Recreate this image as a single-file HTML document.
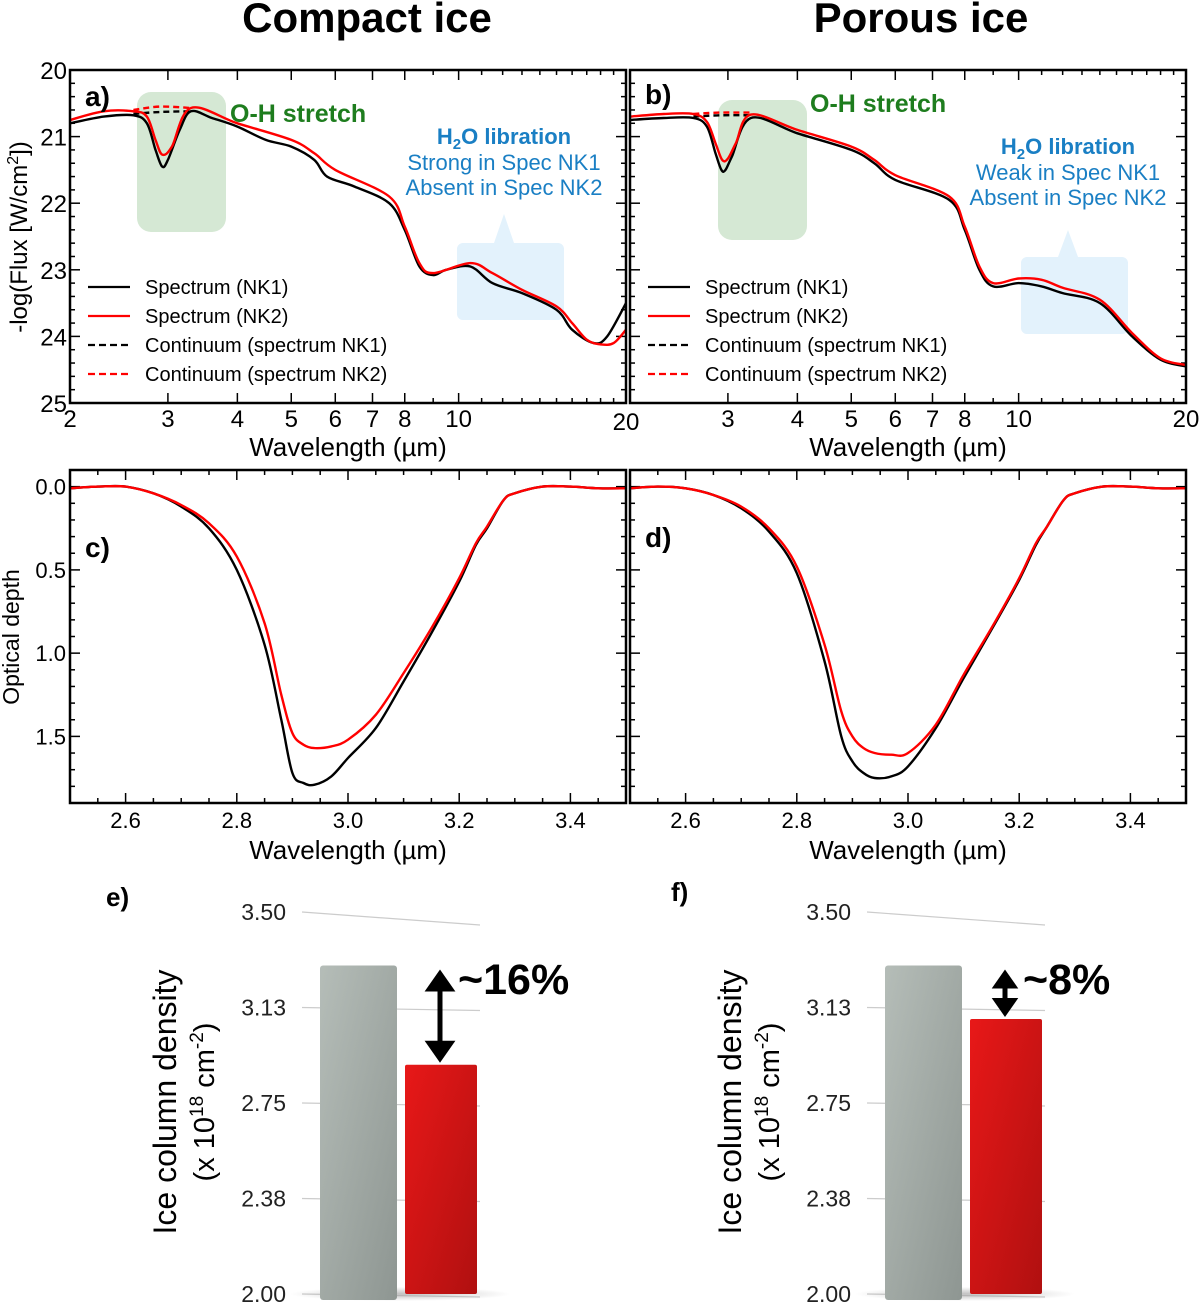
<!DOCTYPE html>
<html><head><meta charset="utf-8">
<style>
html,body{margin:0;padding:0;background:#fff;}
svg{display:block;font-family:"Liberation Sans",sans-serif;}
</style></head>
<body>
<svg id="fig" width="1200" height="1306" viewBox="0 0 1200 1306" xmlns="http://www.w3.org/2000/svg">
<text x="367" y="32" font-size="42" font-weight="bold" text-anchor="middle">Compact ice</text>
<text x="921" y="32" font-size="42" font-weight="bold" text-anchor="middle">Porous ice</text>
<g id="root"></g>
</svg>
<script>
// ---- Data: panels a/b (wavelength µm, -log flux) ----
const aNK1x=[2.0,2.3,2.6,2.75,2.85,2.93,3.0,3.15,3.3,3.6,4.0,4.5,5.0,5.5,5.8,6.5,7.5,8.0,8.5,9.0,9.5,10.5,11.5,13,15,16,17.5,18.5,20];
const aNK1y=[20.8,20.7,20.68,20.8,21.2,21.45,21.35,20.9,20.62,20.72,20.85,21.05,21.15,21.35,21.6,21.75,22.0,22.4,22.95,23.08,23.0,22.95,23.2,23.35,23.6,23.9,24.1,24.0,23.5];
const aNK2x=[2.0,2.3,2.6,2.75,2.85,2.93,3.05,3.3,4.0,5.0,5.5,6.0,7.5,8.0,8.5,9.0,10.5,11.5,13,15,16,17,18,19,20];
const aNK2y=[20.75,20.62,20.62,20.7,21.05,21.27,21.15,20.57,20.8,21.05,21.25,21.5,21.9,22.35,22.9,23.05,22.9,23.05,23.3,23.55,23.8,24.05,24.12,24.1,23.9];
const aC1x=[2.6,2.9,3.3]; const aC1y=[20.66,20.63,20.62];
const aC2x=[2.6,2.9,3.3]; const aC2y=[20.6,20.55,20.57];
const bNK1x=[2.0,2.3,2.6,2.75,2.85,2.92,2.97,3.05,3.3,4.0,5.0,5.5,6.0,7.5,8.0,8.5,9.0,10.0,11.0,12.0,14.0,16.0,18.0,20.0];
const bNK1y=[20.75,20.72,20.72,20.85,21.25,21.5,21.5,21.3,20.72,20.95,21.2,21.4,21.65,21.95,22.4,23.0,23.25,23.2,23.25,23.35,23.5,24.0,24.35,24.45];
const bNK2x=[2.0,2.3,2.6,2.75,2.85,2.93,3.0,3.1,3.3,4.0,5.0,5.5,6.0,7.5,8.0,8.5,9.0,10.0,11.0,12.0,14.0,16.0,18.0,20.0];
const bNK2y=[20.7,20.66,20.66,20.78,21.1,21.35,21.33,21.1,20.67,20.9,21.15,21.35,21.58,21.9,22.35,22.95,23.2,23.13,23.15,23.27,23.45,23.95,24.33,24.43];
const bC1x=[2.6,2.9,3.3]; const bC1y=[20.7,20.68,20.68];
const bC2x=[2.6,2.9,3.3]; const bC2y=[20.66,20.64,20.64];
// ---- Data: panels c/d (optical depth) ----
const cX=[2.5,2.55,2.6,2.65,2.7,2.75,2.8,2.85,2.88,2.9,2.92,2.94,2.97,3.0,3.05,3.1,3.15,3.2,3.23,3.25,3.28,3.3,3.35,3.4,3.45,3.5];
const cNK1=[0.01,0.0,0.0,0.04,0.12,0.25,0.5,0.95,1.4,1.72,1.78,1.79,1.74,1.63,1.45,1.17,0.88,0.57,0.35,0.25,0.08,0.04,0.0,0.0,0.01,0.01];
const cNK2=[0.01,0.0,0.0,0.04,0.11,0.22,0.42,0.82,1.25,1.48,1.55,1.57,1.56,1.52,1.37,1.12,0.85,0.55,0.34,0.24,0.08,0.04,0.0,0.0,0.01,0.01];
const dNK1=[0.01,0.0,0.01,0.05,0.13,0.27,0.52,1.05,1.5,1.65,1.72,1.75,1.74,1.68,1.45,1.15,0.86,0.56,0.35,0.24,0.08,0.04,0.0,0.0,0.01,0.01];
const dNK2=[0.01,0.0,0.01,0.05,0.12,0.25,0.48,0.95,1.35,1.5,1.57,1.6,1.61,1.6,1.43,1.13,0.85,0.55,0.34,0.24,0.08,0.04,0.0,0.0,0.01,0.01];
// ---- Data: bars e/f ----
const barTicks=["3.50","3.13","2.75","2.38","2.00"];
const barTickVals=[3.5,3.125,2.75,2.375,2.0];
const eVals=[3.29,2.90]; const eLabel="~16%";
const fVals=[3.29,3.08]; const fLabel="~8%";
const fluxTicks=[20,21,22,23,24,25];
const wlTicks=[2,3,4,5,6,7,8,10,20];
const odTicks=[0.0,0.5,1.0,1.5];
const odXTicks=[2.6,2.8,3.0,3.2,3.4];

const NS="http://www.w3.org/2000/svg";
const root=document.getElementById('root');
function el(tag,attrs,parent,txt){const e=document.createElementNS(NS,tag);for(const k in attrs)e.setAttribute(k,attrs[k]);if(txt!==undefined)e.textContent=txt;(parent||root).appendChild(e);return e;}
function smooth(P){let d='M'+P[0][0].toFixed(1)+','+P[0][1].toFixed(1);
  for(let i=0;i<P.length-1;i++){const p0=P[i-1]||P[i],p1=P[i],p2=P[i+1],p3=P[i+2]||p2;
    const c1=[p1[0]+(p2[0]-p0[0])/6,p1[1]+(p2[1]-p0[1])/6],c2=[p2[0]-(p3[0]-p1[0])/6,p2[1]-(p3[1]-p1[1])/6];
    d+=` C${c1[0].toFixed(1)},${c1[1].toFixed(1)} ${c2[0].toFixed(1)},${c2[1].toFixed(1)} ${p2[0].toFixed(1)},${p2[1].toFixed(1)}`;}
  return d;}

function fluxPanel(x0,tag,d,ann){
  const x1=x0+556,y0=70,y1=403;
  const g=el('g',{});
  
  
  const X=v=>x0+(Math.log10(v)-Math.log10(2))/1*556;
  const Y=v=>y0+(v-20)*(y1-y0)/5;
  const gr=el('rect',{x:ann.gx,y:ann.gy,width:89,height:140,rx:14,fill:'#d5e8d4'},g);
  
  const bl=el('path',{d:`M${ann.bx+6},${ann.by} h${ann.tx-ann.bx-16} l10,${-(ann.by-ann.ty)} l10,${ann.by-ann.ty} h${ann.bx+107-ann.tx-10} a6,6 0 0 1 6,6 v65 a6,6 0 0 1 -6,6 h-95 a6,6 0 0 1 -6,-6 v-65 a6,6 0 0 1 6,-6z`,fill:'#e3f2fc'},g);
  
  for(let w=2;w<=20;w++){const xx=X(w);const big=wlTicks.includes(w);const L=big?10:5;
    el('line',{x1:xx,y1:y1,x2:xx,y2:y1-L,stroke:'#000','stroke-width':1.5},g);
    el('line',{x1:xx,y1:y0,x2:xx,y2:y0+L,stroke:'#000','stroke-width':1.5},g);}
  for(let v=20;v<=25.001;v+=0.2){const yy=Y(v);const big=Math.abs(v-Math.round(v))<0.01;const L=big?10:5;
    el('line',{x1:x0,y1:yy,x2:x0+L,y2:yy,stroke:'#000','stroke-width':1.5},g);
    el('line',{x1:x1,y1:yy,x2:x1-L,y2:yy,stroke:'#000','stroke-width':1.5},g);}
  wlTicks.forEach(w=>{if(tag==='b'&&w===2)return;const t=el('text',{x:X(w),y:(tag==='a'&&w===20)?430:427,'font-size':24,'text-anchor':'middle'},g,String(w));});
  if(tag==='a'){fluxTicks.forEach(v=>{const t=el('text',{x:67,y:Y(v)+9,'font-size':24,'text-anchor':'end'},g,String(v));});}
  const xt=el('text',{x:(x0+x1)/2,y:456,'font-size':26,'text-anchor':'middle'},g,'Wavelength (µm)');
  
  const path=(xs,ys)=>smooth(xs.map((v,i)=>[X(v),Y(ys[i])]));
  const s=[[d.c1x,d.c1y,'#000','6,4','continuum-nk1'],[d.c2x,d.c2y,'#f00','6,4','continuum-nk2'],[d.n1x,d.n1y,'#000','','spectrum-nk1'],[d.n2x,d.n2y,'#f00','','spectrum-nk2']];
  s.forEach(q=>{const p=el('path',{d:path(q[0],q[1]),fill:'none',stroke:q[2],'stroke-width':2.4,'stroke-dasharray':q[3]||'none','stroke-linejoin':'round'},g);});
  el('rect',{x:x0,y:y0,width:556,height:333,fill:'none',stroke:'#000','stroke-width':2.5},g);
  const lg=el('g',{},g);
  [['Spectrum (NK1)','#000',''],['Spectrum (NK2)','#f00',''],['Continuum (spectrum NK1)','#000','7,4'],['Continuum (spectrum NK2)','#f00','7,4']].forEach((e,i)=>{
    const yy=287+i*29;const ge=el('g',{},lg);
    el('line',{x1:x0+18,y1:yy,x2:x0+60,y2:yy,stroke:e[1],'stroke-width':2.2,'stroke-dasharray':e[2]||'none'},ge);
    el('text',{x:x0+75,y:yy+7,'font-size':20},ge,e[0]);});
  const pl=el('text',{x:x0+15,y:ann.ly,'font-size':28,'font-weight':'bold'},g,tag+')');
  const oh=el('text',{x:ann.ox,y:ann.oy,'font-size':25,'font-weight':'bold',fill:'#1e7d1e'},g,'O-H stretch');
  const lt=el('text',{x:ann.tx,y:ann.t1,'font-size':22,'font-weight':'bold',fill:'#1a7fc4','text-anchor':'middle'},g);
  
  el('tspan',{},lt,'H');el('tspan',{'font-size':15,dy:5},lt,'2');el('tspan',{dy:-5},lt,'O libration');
  ann.lines.forEach((s2,i)=>{const t=el('text',{x:ann.tx,y:ann.t1+26+i*25,'font-size':22,fill:'#1a7fc4','text-anchor':'middle'},g,s2);});
}
fluxPanel(70,'a',{n1x:aNK1x,n1y:aNK1y,n2x:aNK2x,n2y:aNK2y,c1x:aC1x,c1y:aC1y,c2x:aC2x,c2y:aC2y},
 {gx:137,gy:92,bx:451,by:243,tx:504,ty:214,ly:106,ox:230,oy:122,t1:144,lines:['Strong in Spec NK1','Absent in Spec NK2']});
fluxPanel(630,'b',{n1x:bNK1x,n1y:bNK1y,n2x:bNK2x,n2y:bNK2y,c1x:bC1x,c1y:bC1y,c2x:bC2x,c2y:bC2y},
 {gx:718,gy:100,bx:1015,by:257,tx:1068,ty:230,ly:104,ox:810,oy:112,t1:154,lines:['Weak in Spec NK1','Absent in Spec NK2']});
const yt=el('text',{x:0,y:0,'font-size':24,'text-anchor':'middle',transform:'translate(27,237) rotate(-90)'});

el('tspan',{},yt,'-log(Flux [W/cm');el('tspan',{'font-size':16,dy:-9},yt,'2');el('tspan',{dy:9},yt,'])');

function odPanel(x0,tag,n1,n2,ly){
  const x1=x0+556,y0=470,y1=803;
  const g=el('g',{});
  const X=v=>x0+(v-2.5)*556;
  const Y=v=>y0+(v+0.1)*(y1-y0)/2.0;
  for(let i=0;i<=20;i++){const v=2.5+i*0.05;const xx=X(v);const big=Math.abs(v*5-Math.round(v*5))<0.01;const L=big?10:5;
    el('line',{x1:xx,y1:y1,x2:xx,y2:y1-L,stroke:'#000','stroke-width':1.5},g);el('line',{x1:xx,y1:y0,x2:xx,y2:y0+L,stroke:'#000','stroke-width':1.5},g);}
  for(let i=0;i<=19;i++){const v=i*0.1;const yy=Y(v);const big=i%5===0;const L=big?10:5;
    el('line',{x1:x0,y1:yy,x2:x0+L,y2:yy,stroke:'#000','stroke-width':1.5},g);el('line',{x1:x1,y1:yy,x2:x1-L,y2:yy,stroke:'#000','stroke-width':1.5},g);}
  odXTicks.forEach(v=>{const t=el('text',{x:X(v),y:828,'font-size':22,'text-anchor':'middle'},g,v.toFixed(1));});
  if(tag==='c')odTicks.forEach(v=>{const t=el('text',{x:66,y:Y(v)+8,'font-size':22,'text-anchor':'end'},g,v.toFixed(1));});
  const xt=el('text',{x:(x0+x1)/2,y:859,'font-size':26,'text-anchor':'middle'},g,'Wavelength (µm)');
  const path=ys=>smooth(cX.map((v,i)=>[X(v),Y(ys[i])]));
  const p1=el('path',{d:path(n1),fill:'none',stroke:'#000','stroke-width':2.4,'stroke-linejoin':'round'},g);
  const p2=el('path',{d:path(n2),fill:'none',stroke:'#f00','stroke-width':2.4,'stroke-linejoin':'round'},g);
  el('rect',{x:x0,y:y0,width:556,height:333,fill:'none',stroke:'#000','stroke-width':2.5},g);
  const pl=el('text',{x:x0+15,y:ly,'font-size':28,'font-weight':'bold'},g,tag+')');
}
odPanel(70,'c',cNK1,cNK2,557);
odPanel(630,'d',dNK1,dNK2,547);
const oy=el('text',{x:0,y:0,'font-size':23,'text-anchor':'middle',transform:'translate(19,637) rotate(-90)'},root,'Optical depth');


const defs=el('defs',{});
const gg=el('linearGradient',{id:'gGray',x1:0,y1:0,x2:1,y2:1},defs);el('stop',{offset:0,'stop-color':'#b5bdb8'},gg);el('stop',{offset:1,'stop-color':'#8e9692'},gg);
const rg=el('linearGradient',{id:'gRed',x1:0,y1:0,x2:1,y2:1},defs);el('stop',{offset:0,'stop-color':'#e81818'},rg);el('stop',{offset:1,'stop-color':'#b01010'},rg);
const sg=el('radialGradient',{id:'gSh'},defs);el('stop',{offset:0,'stop-color':'#999','stop-opacity':0.6},sg);el('stop',{offset:1,'stop-color':'#999','stop-opacity':0},sg);

function barPanel(x0,tag,vals,label,ytx){
  const g=el('g',{});
  const Y=v=>1294-(v-2.0)*(382/1.5);
  barTickVals.forEach((v,i)=>{const yy=Y(v);
    const gl=el('line',{x1:x0+222,y1:yy,x2:x0+400,y2:yy+(i===0?13:3),stroke:'#ccc','stroke-width':1.2},g);
    const t=el('text',{x:x0+206,y:yy+8,'font-size':23,'text-anchor':'end',fill:'#222'},g,barTicks[i]);});
  el('ellipse',{cx:x0+320,cy:1294,rx:110,ry:7,fill:'url(#gSh)'},g);
  const b1=el('rect',{x:x0+240,y:Y(vals[0]),width:77,height:1294-Y(vals[0])+6,rx:3,fill:'url(#gGray)'},g);
  const b2=el('rect',{x:x0+325,y:Y(vals[1]),width:72,height:1294-Y(vals[1]),rx:2,fill:'url(#gRed)'},g);
  const ax=x0+360,top=Y(vals[0])+4,bot=Y(vals[1])-2;
  const hh=Math.min(22,(bot-top)/2.5),hw=hh*0.7;
  const ar=el('g',{},g);
  el('line',{x1:ax,y1:top+hh*0.6,x2:ax,y2:bot-hh*0.6,stroke:'#000','stroke-width':5},ar);
  el('polygon',{points:`${ax},${top} ${ax-hw},${top+hh} ${ax+hw},${top+hh}`,fill:'#000'},ar);
  el('polygon',{points:`${ax},${bot} ${ax-hw},${bot-hh} ${ax+hw},${bot-hh}`,fill:'#000'},ar);
  const pt=el('text',{x:x0+378,y:994,'font-size':43,'font-weight':'bold'},g,label);
  const pl=el('text',{x:x0+26,y:ytx,'font-size':26,'font-weight':'bold'},g,tag+')');
  const a1=el('text',{x:0,y:0,'font-size':32,'text-anchor':'middle',transform:`translate(${x0+96},1102) rotate(-90)`},g,'Ice column density');
  const a2=el('text',{x:0,y:0,'font-size':29,'text-anchor':'middle',transform:`translate(${x0+134},1102) rotate(-90)`},g);
  el('tspan',{},a2,'(x 10');el('tspan',{'font-size':19,dy:-11},a2,'18');el('tspan',{dy:11},a2,' cm');el('tspan',{'font-size':19,dy:-11},a2,'-2');el('tspan',{dy:11},a2,')');
}
barPanel(80,'e',eVals,eLabel,906);
barPanel(645,'f',fVals,fLabel,901);
</script>
</body></html>
